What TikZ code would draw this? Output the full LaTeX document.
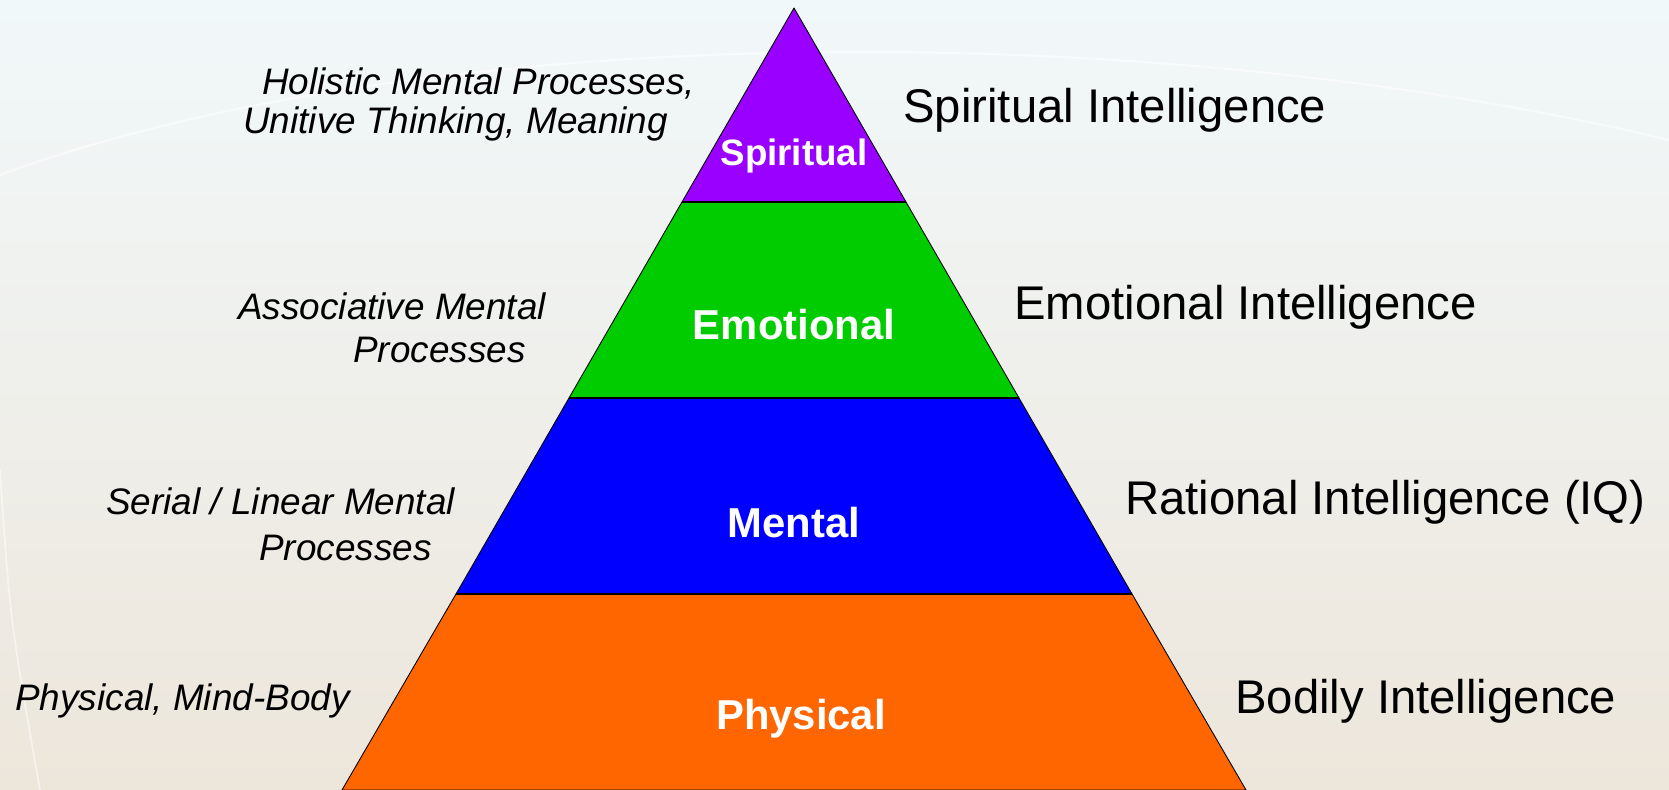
\documentclass[tikz,border=0pt]{standalone}
\usepackage{fontspec}
\setmainfont{Liberation Sans}
\usetikzlibrary{positioning}
\definecolor{spcol}{HTML}{9900FF}
\definecolor{emcol}{HTML}{00CC00}
\definecolor{mecol}{HTML}{0000FF}
\definecolor{phcol}{HTML}{FF6600}
\definecolor{bgtop}{HTML}{F1F8FA}
\definecolor{bgmid}{HTML}{F7F9F6}
\definecolor{bgbot}{HTML}{EDE6DB}
\tikzset{
 layer/.style={draw=black,line width=.5pt,line join=round},
 inlabel/.style={text=white,yshift=-2.3pt,font=\bfseries\fontsize{23.8}{28}\selectfont},
 rlabel/.style={anchor=west,inner sep=0pt,yshift=-2.3pt,font=\fontsize{26.9}{32}\selectfont},
 llabel/.style={anchor=west,inner sep=0pt,yshift=-2pt,font=\itshape\fontsize{21}{25}\selectfont},
}
\begin{document}
\begin{tikzpicture}[x=.02cm,y=-.02cm]
 \useasboundingbox (0,0) rectangle (1669,790);
 \shade[top color=bgtop,middle color=bgmid,bottom color=bgbot] (0,0) rectangle (1669,790);
 \draw[white,opacity=.5,line width=1.2pt] (0,175) .. controls (420,20) and (1150,15) .. (1669,140);
 \draw[white,opacity=.5,line width=1pt] (0,470) .. controls (10,620) .. (40,790);
 % pyramid
 \filldraw[layer,fill=spcol] (794,8)--(906,202)--(682,202)--cycle;
 \filldraw[layer,fill=emcol] (682,202)--(906,202)--(1019,398)--(569,398)--cycle;
 \filldraw[layer,fill=mecol] (569,398)--(1019,398)--(1132,594)--(456,594)--cycle;
 \filldraw[layer,fill=phcol] (456,594)--(1132,594)--(1246,790)--(342,790)--cycle;
 \draw[line width=1.2pt] (682,202)--(906,202) (569,398)--(1019,398) (456,594)--(1132,594);
 \path
 (794,152) node[inlabel,font=\bfseries\fontsize{20.9}{24}\selectfont] (sp) {Spiritual} % <<< tầng 1
 (794,321) node[inlabel] (em) {Emotional} % <<< tầng 2
 (794,519) node[inlabel] (me) {Mental} % <<< tầng 3
 (801,715) node[inlabel] (ph) {Physical}; % <<< tầng 4
 % right side
 \path
 (903,106) node[rlabel] (spR) {Spiritual Intelligence}
 (1014,303) node[rlabel] (emR) {Emotional Intelligence}
 (1125,498) node[rlabel] (meR) {Rational Intelligence (IQ)}
 (1235,697) node[rlabel] (phR) {Bodily Intelligence};
 % left side
 \path
 (262,80) node[llabel] (spL) {Holistic Mental Processes,}
 (243,120) node[llabel] (spLb) {Unitive Thinking, Meaning}
 (238,303) node[llabel] (emL) {Associative Mental}
 (353,346) node[llabel] (emLb) {Processes}
 (106,498) node[llabel] (meL) {Serial / Linear Mental}
 (259,544) node[llabel] (meLb) {Processes}
 (15,697) node[llabel] (phL) {Physical, Mind-Body};
\end{tikzpicture}
\end{document}
